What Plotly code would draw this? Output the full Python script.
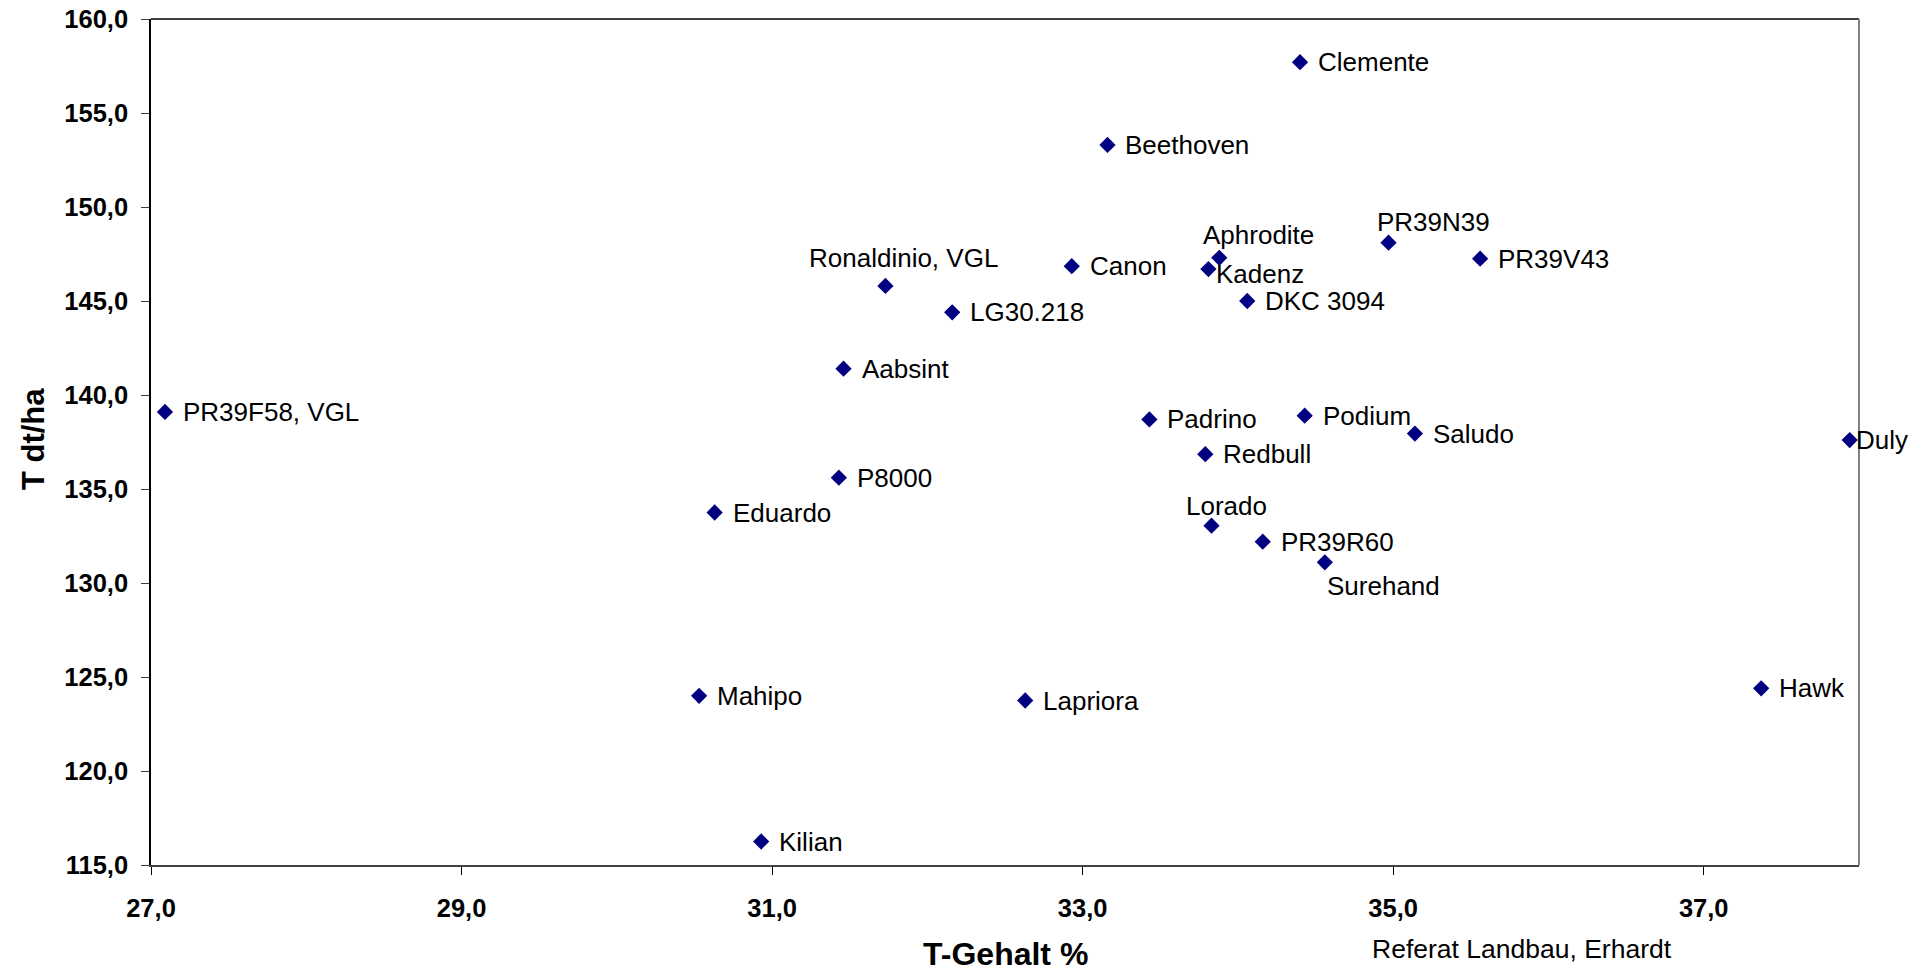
import plotly.graph_objects as go

# ---- data ----
varieties = ["Clemente", "Beethoven", "Aphrodite", "Kadenz", "PR39N39", "PR39V43",
             "Canon", "Ronaldinio, VGL", "LG30.218", "DKC 3094", "Aabsint",
             "PR39F58, VGL", "Padrino", "Podium", "Saludo", "Duly", "Redbull",
             "P8000", "Eduardo", "Lorado", "PR39R60", "Surehand", "Hawk",
             "Mahipo", "Lapriora", "Kilian"]
t_gehalt = [34.40, 33.16, 33.88, 33.81, 34.97, 35.56,
            32.93, 31.73, 32.16, 34.06, 31.46,
            27.09, 33.43, 34.43, 35.14, 37.94, 33.79,
            31.43, 30.63, 33.83, 34.16, 34.56, 37.37,
            30.53, 32.63, 30.93]
t_ertrag = [157.7, 153.3, 147.3, 146.7, 148.1, 147.25,
            146.85, 145.8, 144.4, 145.0, 141.4,
            139.1, 138.7, 138.9, 137.95, 137.6, 136.85,
            135.6, 133.75, 133.05, 132.2, 131.1, 124.4,
            124.0, 123.75, 116.25]

x_ticks = [27.0, 29.0, 31.0, 33.0, 35.0, 37.0]
y_ticks = [115.0, 120.0, 125.0, 130.0, 135.0, 140.0, 145.0, 150.0, 155.0, 160.0]

# ---- label placement (style, pixels) ----
special_labels = {
    "Kadenz": dict(xanchor="left", xshift=6, yshift=-5),
    "Duly": dict(xanchor="left", xshift=4, yshift=0),
    "Aphrodite": dict(xanchor="center", xshift=39, yshift=23),
    "PR39N39": dict(xanchor="center", xshift=45, yshift=21),
    "Ronaldinio, VGL": dict(xanchor="center", xshift=18, yshift=28),
    "Lorado": dict(xanchor="center", xshift=15, yshift=20),
    "Surehand": dict(xanchor="center", xshift=59, yshift=-24),
}
default_label = dict(xanchor="left", xshift=16, yshift=0)

FONT = "Liberation Sans, Arial, sans-serif"
NAVY = "#000080"

fig = go.Figure()
fig.add_trace(go.Scatter(
    x=t_gehalt, y=t_ertrag, mode="markers",
    marker=dict(symbol="diamond", size=12.5, color=NAVY, line=dict(width=0)),
    hovertext=varieties, hoverinfo="text+x+y", showlegend=False, cliponaxis=False,
))

annotations = []
for name, xv, yv in zip(varieties, t_gehalt, t_ertrag):
    pos = special_labels.get(name, default_label)
    annotations.append(dict(
        x=xv, y=yv, xref="x", yref="y", text=name, showarrow=False,
        xanchor=pos["xanchor"], yanchor="middle",
        xshift=pos["xshift"], yshift=pos["yshift"],
        font=dict(family=FONT, size=26, color="#000000"),
    ))

annotations += [
    dict(text="<b>T-Gehalt %</b>", xref="paper", yref="paper", x=0.5, y=-0.105,
         xanchor="center", yanchor="middle", showarrow=False,
         font=dict(family=FONT, size=32, color="#000000")),
    dict(text="<b>T dt/ha</b>", xref="paper", yref="paper", x=-0.0688, y=0.504,
         xanchor="center", yanchor="middle", showarrow=False, textangle=-90,
         font=dict(family=FONT, size=31, color="#000000")),
    dict(text="Referat Landbau, Erhardt", xref="paper", yref="paper", x=0.7137, y=-0.0993,
         xanchor="left", yanchor="middle", showarrow=False,
         font=dict(family=FONT, size=26.5, color="#000000")),
]

fig.update_layout(
    width=1926, height=972,
    margin=dict(l=151, r=67, t=19, b=107, autoexpand=False),
    paper_bgcolor="white", plot_bgcolor="white",
    separators=",.",
    annotations=annotations,
    shapes=[
        dict(type="line", xref="paper", yref="paper", x0=0, x1=1, y0=1, y1=1,
             line=dict(color="#000000", width=1.5)),
        dict(type="line", xref="paper", yref="paper", x0=1, x1=1, y0=0, y1=1,
             line=dict(color="#808080", width=2)),
    ],
    font=dict(family=FONT, color="#000000"),
)
fig.update_xaxes(
    range=[27, 38], tickvals=x_ticks, tickformat=".1f", automargin=False,
    showgrid=False, zeroline=False,
    showline=True, linecolor="#404040", linewidth=2,
    ticks="outside", ticklen=8, tickwidth=1, tickcolor="#000000",
    tickfont=dict(family=FONT, size=25.5, color="#000000", weight="bold"),
    ticklabelstandoff=11,
)
fig.update_yaxes(
    range=[115, 160], tickvals=y_ticks, tickformat=".1f", automargin=False,
    showgrid=False, zeroline=False,
    showline=True, linecolor="#000000", linewidth=1.5,
    ticks="outside", ticklen=8, tickwidth=1, tickcolor="#404040",
    tickfont=dict(family=FONT, size=25.5, color="#000000", weight="bold"),
    ticklabelstandoff=8,
)

fig.write_html(
    "out.html",
    config={"displayModeBar": False},
    post_script="document.body.style.margin='0';document.body.style.overflow='hidden';",
)
